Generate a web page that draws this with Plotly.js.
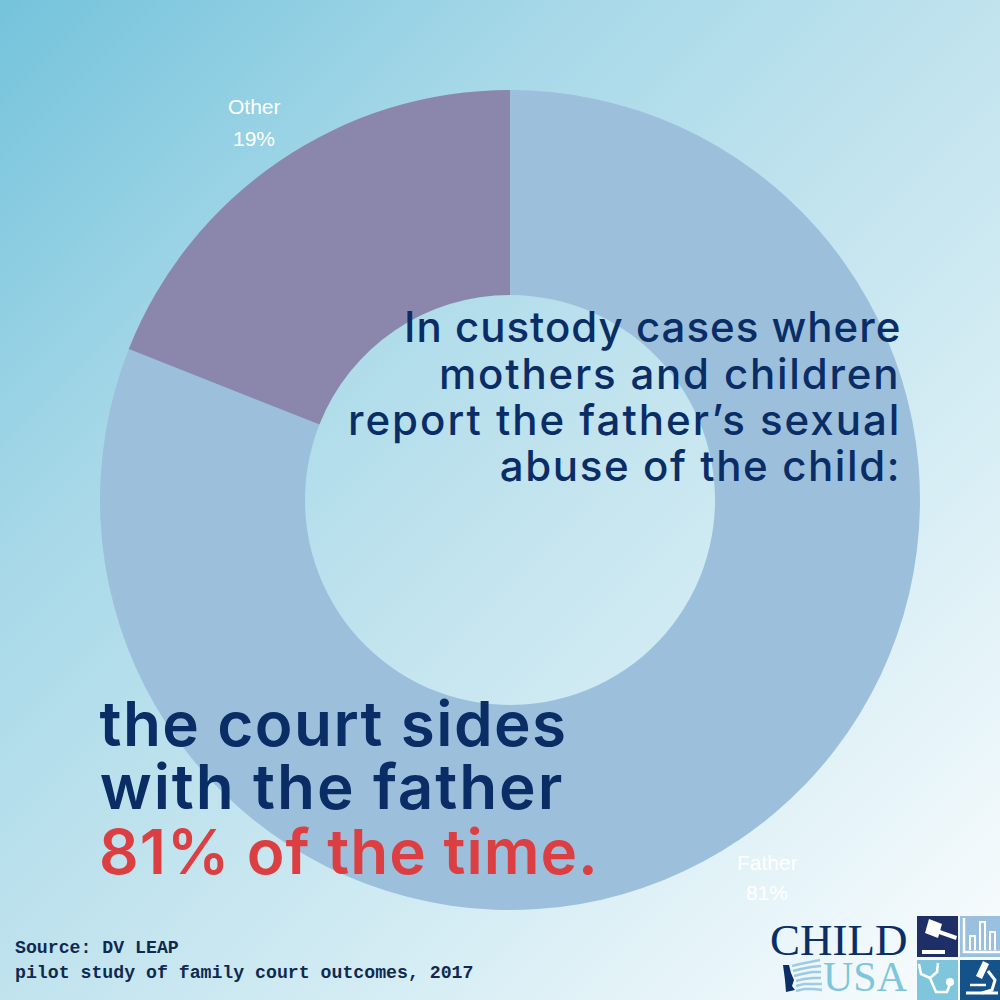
<!DOCTYPE html>
<html>
<head>
<meta charset="utf-8">
<script src="https://cdn.plot.ly/plotly-3.0.1.min.js"></script>
<style>
html,body{margin:0;padding:0;width:1000px;height:1000px;overflow:hidden}
body{background:linear-gradient(135deg,#74c3db 0%,#a6d8e8 28%,#c0e3ee 50%,#d8eef5 72%,#fbfdfe 100%)}
#chart{width:1000px;height:1000px}
.annotation[data-index="4"] text{letter-spacing:1px}
.annotation[data-index="5"] text{letter-spacing:1.8px}
.annotation[data-index="6"] text{letter-spacing:2px}
.annotation[data-index="7"] text{letter-spacing:1.6px}
.annotation[data-index="8"] text{letter-spacing:1.4px}
.annotation[data-index="9"] text{letter-spacing:1.9px}
.annotation[data-index="10"] text{letter-spacing:1px}
</style>
</head>
<body>
<div id="chart"></div>
<script>
const categories = ["Father", "Other"];
const values = [81, 19];
const sliceColors = ["#9cc0dc", "#8b86ac"];
const labelCentersX = [767, 254];
const labelCentersY = [[862, 892], [107, 138]];
const introLines = ["In custody cases where", "mothers and children", "report the father’s sexual", "abuse of the child:"];
const introCentersX = [652, 669.5, 624, 700];
const introCentersY = [327, 373, 419, 465];
const claimLines = ["the court sides", "with the father", "81% of the time."];
const claimCentersX = [333, 331.5, 348.5];
const claimCentersY = [723, 786, 851];
const sourceLines = ["Source: DV LEAP", "pilot study of family court outcomes, 2017"];
const sourceCenters = [948, 973];

const W = 1000, H = 1000;
const fx = p => p / W, fy = p => 1 - p / H;
const NAVY = "#0a2d66", RED = "#dc3f41";

function pathOf(points, close) {
  return points.map((q, i) => (i ? "L" : "M") + fx(q[0]) + "," + fy(q[1])).join(" ") + (close ? " Z" : "");
}
function rect(x0, y0, x1, y1, color) {
  return {type: "rect", xref: "paper", yref: "paper", x0: fx(x0), x1: fx(x1), y0: fy(y0), y1: fy(y1),
          fillcolor: color, line: {width: 0}, layer: "above"};
}
function poly(points, color) {
  return {type: "path", xref: "paper", yref: "paper", path: pathOf(points, true), fillcolor: color,
          line: {width: 0}, layer: "above"};
}
function stroke(points, color, width) {
  return {type: "path", xref: "paper", yref: "paper", path: pathOf(points, false),
          line: {color: color, width: width}, layer: "above"};
}
function text(str, x, y, size, color, family, anchor, weight) {
  return {xref: "paper", yref: "paper", x: fx(x), y: fy(y), text: str, showarrow: false,
          xanchor: anchor, yanchor: "middle", borderpad: 0,
          font: {family: family, size: size, color: color, weight: weight}};
}

const annotations = [];
categories.forEach((c, i) => {
  annotations.push(text(c, labelCentersX[i], labelCentersY[i][0], 21, "#ffffff", "Liberation Sans", "center", 400));
  annotations.push(text(values[i] + "%", labelCentersX[i], labelCentersY[i][1], 21, "#ffffff", "Liberation Sans", "center", 400));
});
introLines.forEach((t, i) => annotations.push(text(t, introCentersX[i], introCentersY[i], 42, NAVY, "Inter", "center", 500)));
claimLines.forEach((t, i) => annotations.push(text(t, claimCentersX[i], claimCentersY[i], 62, i === 2 ? RED : NAVY, "Inter", "center", 600)));
sourceLines.forEach((t, i) => annotations.push(text(t, 14, sourceCenters[i], 18.2, "#10294f", "Liberation Mono", "left", 700)));
annotations.push(text("CHILD", 908, 940, 45, "#0b2e66", "Liberation Serif", "right", 400));
annotations.push(text("USA", 909, 977, 42, "#7fc5dc", "Liberation Serif", "right", 400));

const shapes = [
  rect(917, 916, 958, 957, "#1d2f66"),
  rect(960, 916, 1000, 957, "#9bbfdf"),
  rect(917, 960, 958, 1000, "#7fc5dc"),
  rect(960, 960, 1000, 1000, "#14528a"),
  // gavel
  poly([[929,919],[942,924],[938,938],[925,933]], "#ffffff"),
  poly([[937,929],[957,936],[956,940],[936,933]], "#ffffff"),
  rect(922, 950, 945, 954, "#ffffff"),
  // bar-chart icon
  stroke([[964,918],[964,952],[1000,952]], "#ffffff", 2.5),
  stroke([[970,950],[970,936],[975,936],[975,950]], "#ffffff", 2),
  stroke([[980,950],[980,922],[985,922],[985,950]], "#ffffff", 2),
  stroke([[990,950],[990,932],[995,932],[995,950]], "#ffffff", 2),
  // stethoscope
  stroke([[919,964],[921,974],[930,978],[937,972],[938,963]], "#ffffff", 2.5),
  stroke([[930,978],[936,992],[947,992],[950,984]], "#ffffff", 2.5),
  {type: "circle", xref: "paper", yref: "paper", x0: fx(946), x1: fx(954), y0: fy(986), y1: fy(978),
   fillcolor: "#ffffff", line: {width: 0}, layer: "above"},
  // microscope
  poly([[983,961],[989,964],[982,979],[976,976]], "#ffffff"),
  stroke([[988,971],[995,980],[992,990],[982,993]], "#ffffff", 3),
  stroke([[966,993],[998,993]], "#ffffff", 3),
  stroke([[970,985],[986,985]], "#ffffff", 2.5),
  // flag silhouette and stripes
  poly([[783,965],[789,965],[791,973],[794,980],[792,986],[795,990],[786,992],[785,980]], "#0b2e66"),
  stroke([[792,966],[800,964],[810,962],[820,960]], "#9ecbe3", 2.5),
  stroke([[793,971],[801,969],[811,967],[821,966]], "#9ecbe3", 2.5),
  stroke([[794,976],[802,974],[812,972],[821,972]], "#9ecbe3", 2.5),
  stroke([[796,981],[804,979],[813,978],[821,978]], "#9ecbe3", 2.5),
  stroke([[796,986],[804,984],[813,984],[822,984]], "#9ecbe3", 2.5),
  stroke([[796,991],[804,989],[814,989],[822,990]], "#9ecbe3", 2.5)
];

const trace = {
  type: "pie",
  labels: categories,
  values: values,
  hole: 0.5,
  sort: false,
  direction: "clockwise",
  rotation: 0,
  domain: {x: [0.10, 0.92], y: [0.09, 0.91]},
  marker: {colors: sliceColors, line: {width: 0}},
  textinfo: "none",
  automargin: false,
  hoverinfo: "label+percent"
};

const layout = {
  width: W, height: H,
  margin: {l: 0, r: 0, t: 0, b: 0},
  paper_bgcolor: "rgba(0,0,0,0)",
  plot_bgcolor: "rgba(0,0,0,0)",
  showlegend: false,
  annotations: annotations,
  shapes: shapes
};
Plotly.newPlot("chart", [trace], layout, {displayModeBar: false, staticPlot: true});
</script>
</body>
</html>
